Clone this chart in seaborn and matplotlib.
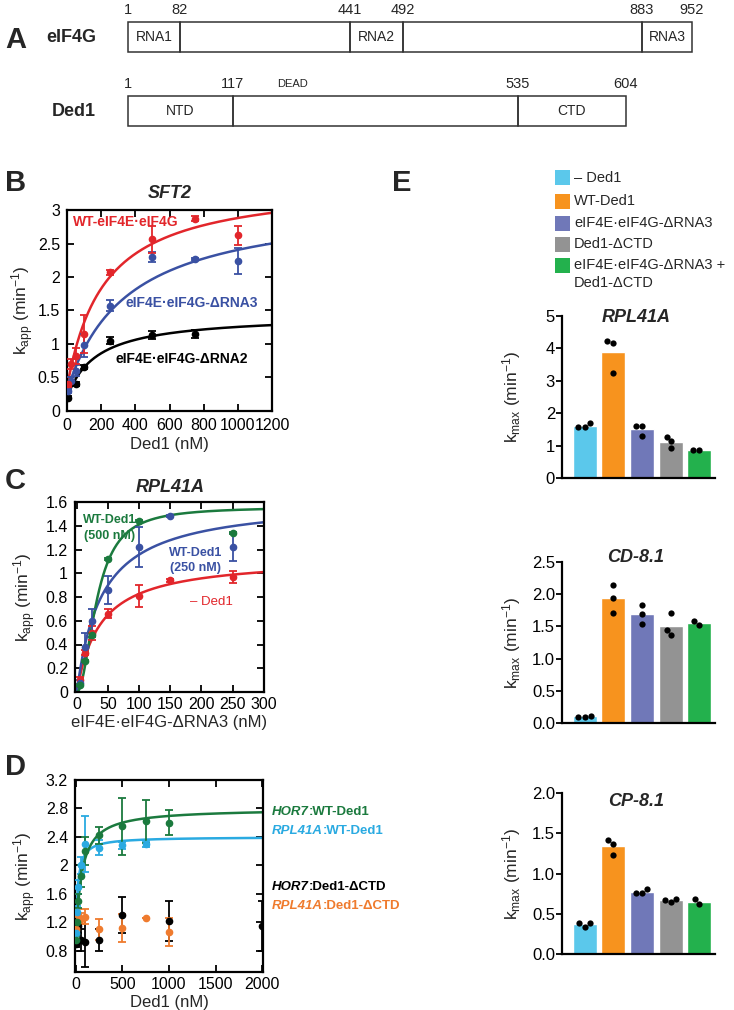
import numpy as np
import pandas as pd
import seaborn as sns
import matplotlib.pyplot as plt
from matplotlib.patches import Rectangle
from matplotlib.ticker import MultipleLocator, FormatStrFormatter

# ---------------- data ----------------
# A: domain maps (residue numbers at domain borders)
eif4g_res = [1, 82, 441, 492, 883, 952]
eif4g_dom = ['RNA1', '', 'RNA2', '', 'RNA3']
ded1_res = [1, 117, 535, 604]
ded1_dom = ['NTD', '', 'CTD']

# B: SFT2, kapp (min-1) vs Ded1 (nM)
sft2_wt_x = [5, 25, 50, 100, 250, 500, 750, 1000]
sft2_wt_y = [0.40, 0.70, 0.82, 1.15, 2.07, 2.56, 2.87, 2.62]
sft2_wt_err = [0.04, 0.08, 0.12, 0.28, 0.04, 0.20, 0.04, 0.14]
sft2_r3_x = [5, 25, 50, 100, 250, 500, 750, 1000]
sft2_r3_y = [0.30, 0.45, 0.60, 0.98, 1.57, 2.30, 2.27, 2.24]
sft2_r3_err = [0.03, 0.05, 0.08, 0.17, 0.08, 0.07, 0.02, 0.20]
sft2_r2_x = [5, 50, 100, 250, 500, 750]
sft2_r2_y = [0.20, 0.40, 0.65, 1.05, 1.13, 1.15]
sft2_r2_err = [0.02, 0.03, 0.03, 0.05, 0.06, 0.06]
# fit parameters: k0, kmax, K1/2, hill
sft2_wt_fit = [0.35, 3.08, 217, 1]
sft2_r3_fit = [0.30, 2.85, 354, 1]
sft2_r2_fit = [0.20, 1.24, 175, 1]

# C: RPL41A, kapp vs eIF4E.eIF4G-dRNA3 (nM)
rpl_nod_x = [5, 12.5, 25, 50, 100, 150, 250]
rpl_nod_y = [0.10, 0.33, 0.50, 0.66, 0.81, 0.94, 0.97]
rpl_nod_err = [0.03, 0.02, 0.06, 0.04, 0.09, 0.01, 0.05]
rpl_wt250_x = [5, 12.5, 25, 50, 100, 150, 250]
rpl_wt250_y = [0.08, 0.38, 0.60, 0.86, 1.22, 1.48, 1.22]
rpl_wt250_err = [0.02, 0.12, 0.10, 0.12, 0.17, 0.01, 0.12]
rpl_wt500_x = [5, 12.5, 25, 50, 100, 250]
rpl_wt500_y = [0.06, 0.26, 0.48, 1.12, 1.44, 1.34]
rpl_wt500_err = [0.01, 0.01, 0.02, 0.01, 0.01, 0.01]
rpl_nod_fit = [0, 1.136, 37.4, 1]
rpl_wt250_fit = [0, 1.62, 40, 1]
rpl_wt500_fit = [0, 1.558, 32.3, 2]

# D: kapp vs Ded1 (nM)
hor7_wt_x = [5, 10, 25, 50, 100, 250, 500, 750, 1000]
hor7_wt_y = [0.95, 1.20, 1.50, 1.85, 2.20, 2.42, 2.55, 2.62, 2.60]
hor7_wt_err = [0.05, 0.08, 0.10, 0.15, 0.20, 0.12, 0.40, 0.30, 0.18]
rpl_wt_x = [5, 10, 25, 50, 100, 250, 500, 750]
rpl_wt_y = [1.05, 1.35, 1.70, 2.00, 2.30, 2.25, 2.28, 2.30]
rpl_wt_err = [0.05, 0.08, 0.10, 0.12, 0.40, 0.10, 0.05, 0.04]
hor7_dctd_x = [5, 25, 50, 100, 250, 500, 1000, 2000]
hor7_dctd_y = [0.90, 1.15, 0.95, 0.92, 0.95, 1.30, 1.22, 1.15]
hor7_dctd_err = [0.05, 0.10, 0.15, 0.35, 0.15, 0.25, 0.28, 0.35]
rpl_dctd_x = [5, 25, 50, 100, 250, 500, 750, 1000]
rpl_dctd_y = [1.10, 1.30, 1.25, 1.28, 1.10, 1.12, 1.26, 1.06]
rpl_dctd_err = [0.05, 0.08, 0.08, 0.10, 0.15, 0.20, 0.0, 0.20]
hor7_wt_fit = [0.9, 1.9, 58.7, 1]
rpl_wt_fit = [0.9, 1.5, 19.6, 1]

# E: kmax replicates
conds = ['– Ded1', 'WT-Ded1', 'eIF4E·eIF4G-ΔRNA3', 'Ded1-ΔCTD',
         'eIF4E·eIF4G-ΔRNA3 +\nDed1-ΔCTD']
rpl41a_reps = [[1.70, 1.58, 1.58], [4.22, 3.25, 4.18], [1.60, 1.30, 1.60],
               [0.93, 1.28, 1.13], [0.86, 0.86]]
cd81_reps = [[0.11, 0.10, 0.10], [2.15, 1.94, 1.71], [1.84, 1.54, 1.70],
             [1.37, 1.71, 1.45], [1.52, 1.58]]
cp81_reps = [[0.39, 0.34, 0.38], [1.42, 1.23, 1.37], [0.81, 0.755, 0.755],
             [0.685, 0.64, 0.67], [0.62, 0.68]]

# colours
RED, BLUE, DKGREEN = '#e2262b', '#3a51a3', '#1b7a3e'
CYAN, ORANGE = '#2aaae1', '#ef7b2e'
bar_colors = ['#5bc8eb', '#f7931e', '#7078b8', '#939393', '#23b14d']

# ---------------- style ----------------
sns.set_theme(style="ticks")
plt.rcParams['font.family'] = ['Liberation Sans', 'DejaVu Sans']
plt.rcParams['mathtext.fontset'] = 'custom'
plt.rcParams['mathtext.rm'] = 'Liberation Sans'
plt.rcParams['mathtext.it'] = 'Liberation Sans:italic'
plt.rcParams['mathtext.bf'] = 'Liberation Sans:bold'

W, H = 734, 1010
fig = plt.figure(figsize=(W / 100, H / 100), dpi=100)
fig.patch.set_facecolor('white')


def fpos(x, y):
    return x / W, 1 - y / H


def ftext(x, y, s, **kw):
    return fig.text(*fpos(x, y), s, **kw)


def hill(x, p):
    return p[0] + p[1] * x ** p[3] / (p[2] ** p[3] + x ** p[3])


def kin_axes(l, t, r, b):
    ax = fig.add_axes([l / W, 1 - b / H, (r - l) / W, (b - t) / H])
    ax.tick_params(direction='in', length=5, width=1.3, top=True, right=True,
                   labelsize=11.5, colors='black', pad=5)
    for s in ax.spines.values():
        s.set_linewidth(1.6)
        s.set_color('black')
    ax.yaxis.set_major_formatter(FormatStrFormatter('%g'))
    ax.set_ylabel(r'k$_{\rm app}$ (min$^{-1}$)', fontsize=12.5)
    return ax


def points(ax, x, y, err, color):
    ax.errorbar(x, y, yerr=err, fmt='o', ms=4.5, color=color, ecolor=color,
                elinewidth=1.3, capsize=3, capthick=1.3, zorder=3)


def kin_series(ax, x, y, err, fit, color, xmax):
    xs = np.linspace(0, xmax, 300)
    sns.lineplot(x=xs, y=hill(xs, fit), color=color, lw=1.8, ax=ax)
    points(ax, x, y, err, color)


# panel letters
for letter, x, y in [('A', 5, 40), ('B', 5, 183), ('C', 5, 481), ('D', 5, 767), ('E', 392, 183)]:
    ftext(x, y, letter, fontsize=21, fontweight='bold', va='center')

# ---------------- A ----------------
axA = fig.add_axes([0, 1 - 140 / H, 1, 140 / H])
axA.set_xlim(0, W)
axA.set_ylim(140, 0)
axA.axis('off')
# schematic (not to scale) border positions
eif4g_px = [128, 180, 350, 403, 642, 692]
ded1_px = [128, 233, 518, 626]


def domain_row(px, res, names, y0, y1):
    for a, b, name in zip(px[:-1], px[1:], names):
        axA.add_patch(Rectangle((a, y0), b - a, y1 - y0, fill=False, lw=1.1, ec='#333333'))
        axA.text((a + b) / 2, (y0 + y1) / 2, name, ha='center', va='center', fontsize=10)
    for p, r in zip(px, res):
        axA.text(p, y0 - 12, str(r), ha='center', va='center', fontsize=10.5)


domain_row(eif4g_px, eif4g_res, eif4g_dom, 22, 52)
domain_row(ded1_px, ded1_res, ded1_dom, 96, 126)
axA.text(292, 84, 'DEAD', ha='center', va='center', fontsize=8)
axA.text(96, 37, 'eIF4G', ha='right', va='center', fontsize=13, fontweight='bold')
axA.text(96, 111, 'Ded1', ha='right', va='center', fontsize=13, fontweight='bold')

# ---------------- B ----------------
axB = kin_axes(67, 210, 272, 411)
kin_series(axB, sft2_r2_x, sft2_r2_y, sft2_r2_err, sft2_r2_fit, 'black', 1200)
kin_series(axB, sft2_r3_x, sft2_r3_y, sft2_r3_err, sft2_r3_fit, BLUE, 1200)
kin_series(axB, sft2_wt_x, sft2_wt_y, sft2_wt_err, sft2_wt_fit, RED, 1200)
axB.set_xlim(0, 1200)
axB.set_ylim(0, 3)
axB.xaxis.set_major_locator(MultipleLocator(200))
axB.yaxis.set_major_locator(MultipleLocator(0.5))
axB.set_xlabel('Ded1 (nM)', fontsize=12, labelpad=3)
axB.yaxis.set_label_coords(-0.15, 0.5)
ftext(170, 194, 'SFT2', fontsize=13, fontweight='bold', fontstyle='italic', ha='center', va='center')
ftext(73, 222, 'WT-eIF4E·eIF4G', color=RED, fontsize=10, fontweight='bold', va='center')
ftext(126, 303, 'eIF4E·eIF4G-ΔRNA3', color=BLUE, fontsize=10, fontweight='bold', va='center')
ftext(115, 359, 'eIF4E·eIF4G-ΔRNA2', color='black', fontsize=10, fontweight='bold', va='center')

# ---------------- C ----------------
axC = kin_axes(75, 502, 264, 692)
kin_series(axC, rpl_nod_x, rpl_nod_y, rpl_nod_err, rpl_nod_fit, RED, 300)
kin_series(axC, rpl_wt250_x, rpl_wt250_y, rpl_wt250_err, rpl_wt250_fit, BLUE, 300)
kin_series(axC, rpl_wt500_x, rpl_wt500_y, rpl_wt500_err, rpl_wt500_fit, DKGREEN, 300)
axC.set_xlim(-3, 300.5)
axC.set_ylim(0, 1.6)
axC.xaxis.set_major_locator(MultipleLocator(50))
axC.yaxis.set_major_locator(MultipleLocator(0.2))
axC.tick_params(axis='x', pad=3.5)
axC.set_xlabel('eIF4E·eIF4G-ΔRNA3 (nM)', fontsize=12, labelpad=2)
axC.yaxis.set_label_coords(-0.196, 0.5)
ftext(170, 488, 'RPL41A', fontsize=13, fontweight='bold', fontstyle='italic', ha='center', va='center')
ftext(110, 520, 'WT-Ded1', color=DKGREEN, fontsize=9, fontweight='bold', ha='center', va='center')
ftext(110, 536, '(500 nM)', color=DKGREEN, fontsize=9, fontweight='bold', ha='center', va='center')
ftext(196, 553, 'WT-Ded1', color=BLUE, fontsize=9, fontweight='bold', ha='center', va='center')
ftext(196, 568, '(250 nM)', color=BLUE, fontsize=9, fontweight='bold', ha='center', va='center')
ftext(211, 602, '– Ded1', color=RED, fontsize=9.5, ha='center', va='center')

# ---------------- D ----------------
axD = kin_axes(75, 780, 263, 972)
points(axD, hor7_dctd_x, hor7_dctd_y, hor7_dctd_err, 'black')
points(axD, rpl_dctd_x, rpl_dctd_y, rpl_dctd_err, ORANGE)
kin_series(axD, rpl_wt_x, rpl_wt_y, rpl_wt_err, rpl_wt_fit, CYAN, 2000)
kin_series(axD, hor7_wt_x, hor7_wt_y, hor7_wt_err, hor7_wt_fit, DKGREEN, 2000)
axD.set_xlim(-10, 2010)
axD.set_ylim(0.5, 3.2)
axD.xaxis.set_major_locator(MultipleLocator(500))
axD.set_yticks([0.8, 1.2, 1.6, 2.0, 2.4, 2.8, 3.2])
axD.tick_params(axis='x', pad=3.5)
axD.set_xlabel('Ded1 (nM)', fontsize=12, labelpad=2)
axD.yaxis.set_label_coords(-0.197, 0.5)


def gene_label(y, gene, rest, color):
    t = axD.text(*fpos(272, y), gene, transform=fig.transFigure, color=color, fontsize=9.5,
                 fontweight='bold', fontstyle='italic', va='center', ha='left')
    axD.annotate(rest, xy=(1, 0), xycoords=t, color=color, fontsize=9.5, fontweight='bold',
                 va='bottom', ha='left', annotation_clip=False)


gene_label(812, 'HOR7', ':WT-Ded1', DKGREEN)
gene_label(831, 'RPL41A', ':WT-Ded1', CYAN)
gene_label(887, 'HOR7', ':Ded1-ΔCTD', 'black')
gene_label(906, 'RPL41A', ':Ded1-ΔCTD', ORANGE)

# ---------------- E legend ----------------
leg_y = [178, 201, 223, 244, 265]
for c, col, y in zip(conds, bar_colors, leg_y):
    fig.patches.append(Rectangle(fpos(555, y + 7.5), 15 / W, 15 / H, transform=fig.transFigure,
                                 fc=col, ec='none'))
    for i, line in enumerate(c.split('\n')):
        ftext(574, y + i * 18, line, fontsize=10.5, va='center')


# ---------------- E bars ----------------
def long_df(reps):
    rows = [(c, v) for c, vs in zip(conds, reps) for v in vs]
    return pd.DataFrame(rows, columns=['condition', 'kmax'])


def kmax_panel(reps, title, t, b, top, step, fmt, title_y):
    ax = fig.add_axes([562 / W, 1 - b / H, 153 / W, (b - t) / H])
    df = long_df(reps)
    sns.barplot(data=df, x='condition', y='kmax', order=conds, hue='condition',
                hue_order=conds, palette=bar_colors, errorbar=None, width=0.84,
                saturation=1, legend=False, ax=ax)
    sns.swarmplot(data=df, x='condition', y='kmax', order=conds, color='black',
                  size=4.5, ax=ax)
    ax.set_xlim(-0.8, 4.55)
    ax.set_ylim(0, top)
    ax.set_xticks([])
    ax.set_xlabel('')
    ax.yaxis.set_major_locator(MultipleLocator(step))
    ax.yaxis.set_major_formatter(FormatStrFormatter(fmt))
    ax.tick_params(axis='y', direction='out', length=4, width=1.3, labelsize=12, pad=1,
                   colors='black')
    for s in ['top', 'right']:
        ax.spines[s].set_visible(False)
    for s in ['left', 'bottom']:
        ax.spines[s].set_linewidth(1.6)
        ax.spines[s].set_color('black')
    ax.set_ylabel(r'k$_{\rm max}$ (min$^{-1}$)', fontsize=12.5)
    ax.yaxis.set_label_coords(-0.255, 0.5)
    ftext(636, title_y, title, fontsize=13, fontweight='bold', fontstyle='italic',
          ha='center', va='center')
    return ax


kmax_panel(rpl41a_reps, 'RPL41A', 316, 478, 5, 1, '%d', 317)
kmax_panel(cd81_reps, 'CD-8.1', 562, 723, 2.5, 0.5, '%.1f', 558)
kmax_panel(cp81_reps, 'CP-8.1', 793, 954, 2.0, 0.5, '%.1f', 802)

fig.savefig('out.png', dpi=100)
